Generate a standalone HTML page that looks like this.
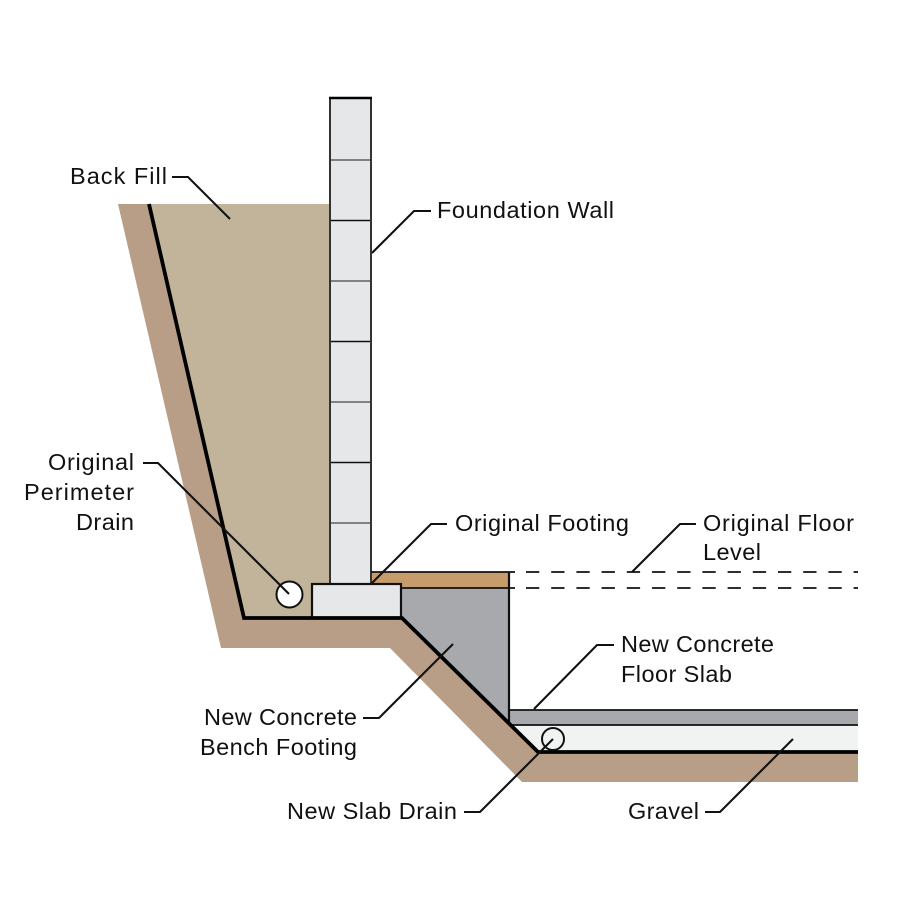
<!DOCTYPE html>
<html><head><meta charset="utf-8"><style>
html,body{margin:0;padding:0;background:#fff}
svg{display:block}
text{font-family:"Liberation Sans",sans-serif;font-size:23.5px;fill:#111}
</style></head><body>
<svg width="901" height="901" viewBox="0 0 901 901" xmlns="http://www.w3.org/2000/svg">
<rect width="901" height="901" fill="#fff"/>
<polygon points="118,204 149,204 244,618 402,618 538,752 858,752 858,782 522,782 390,648 221,648" fill="#b89d87"/>
<polygon points="149,204 330,204 330,618 244,618" fill="#c1b49a"/>
<polygon points="401,588 509,588 509,724 402,618" fill="#a7a9ac"/>
<rect x="371" y="572" width="138" height="16" fill="#c69c6d"/>
<polygon points="509,725 858,725 858,752 538,752" fill="#f1f2f2"/>
<rect x="509" y="710" width="349" height="15" fill="#a7a9ac"/>
<rect x="330" y="98" width="41" height="486" fill="#e6e7e8"/>
<g stroke="#808285" stroke-width="2"><path d="M330 160H371M330 281H371M330 402H371M330 523H371"/></g>
<g stroke="#111" stroke-width="1.4"><path d="M330 220.500H371M330 341.500H371M330 462.500H371"/></g>
<path d="M330 584V98H371V584" fill="none" stroke="#333" stroke-width="2"/>
<path d="M329 98H372" stroke="#000" stroke-width="2.400"/>
<rect x="312" y="584" width="89" height="34" fill="#e6e7e8" stroke="#111" stroke-width="2.200"/>
<path d="M371 572H515M401 588H515" stroke="#111" stroke-width="1.800" fill="none"/>
<path d="M509 572V724" stroke="#111" stroke-width="2.200" fill="none"/>
<path d="M509 710H858M509 725H858" stroke="#111" stroke-width="1.800" fill="none"/>
<path d="M526 572H858M526 588H858" stroke="#111" stroke-width="1.800" stroke-dasharray="13.300 11.900" fill="none"/>
<path d="M149 204L244 618H402L538 752H858" fill="none" stroke="#000" stroke-width="3.800"/>
<circle cx="289.500" cy="594.500" r="13" fill="#fff" stroke="#111" stroke-width="2"/>
<circle cx="553" cy="739" r="11" fill="#f1f2f2" stroke="#111" stroke-width="2"/>
<g fill="none" stroke="#111" stroke-width="2.100">
<path d="M172 177H188L230 219"/>
<path d="M372 253L414 211H431"/>
<path d="M143 463H158L289 594"/>
<path d="M372 583L431 524H447"/>
<path d="M632 572L680 524H696"/>
<path d="M534 709L597 645H614"/>
<path d="M363 718H379L453 644"/>
<path d="M464 812H480L553 739"/>
<path d="M705 812H720L793 739"/>
</g>
<text x="70" y="184" textLength="97">Back Fill</text>
<text x="437" y="218" textLength="177">Foundation Wall</text>
<text x="48" y="470" textLength="86">Original</text>
<text x="24" y="500" textLength="110">Perimeter</text>
<text x="76" y="530" textLength="58">Drain</text>
<text x="455" y="531" textLength="174">Original Footing</text>
<text x="703" y="531" textLength="151">Original Floor</text>
<text x="703" y="560" textLength="58">Level</text>
<text x="621" y="652" textLength="153">New Concrete</text>
<text x="621" y="682" textLength="111">Floor Slab</text>
<text x="204" y="725" textLength="153">New Concrete</text>
<text x="200" y="755" textLength="157">Bench Footing</text>
<text x="287" y="819" textLength="170">New Slab Drain</text>
<text x="628" y="819" textLength="71">Gravel</text>
</svg>
</body></html>
